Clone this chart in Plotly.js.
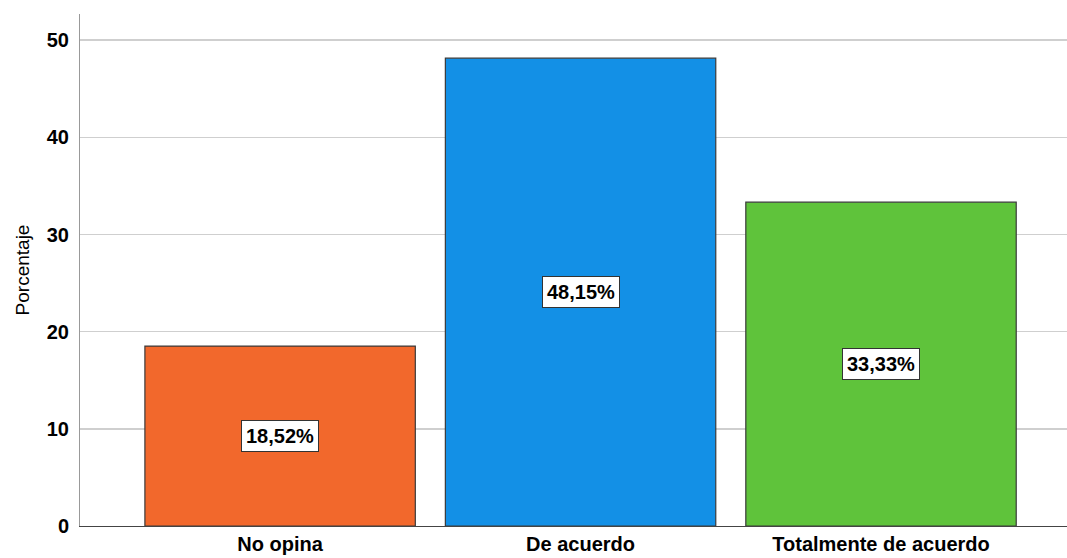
<!DOCTYPE html>
<html>
<head>
<meta charset="utf-8">
<script src="https://cdn.plot.ly/plotly-3.0.1.min.js"></script>
<style>html,body{margin:0;padding:0;background:#fff;}#chart{width:1067px;height:558px;}</style>
</head>
<body>
<div id="chart"></div>
<script>
const categories = ["No opina", "De acuerdo", "Totalmente de acuerdo"];
const values = [18.52, 48.15, 33.33];
const labels = ["18,52%", "48,15%", "33,33%"];
const colors = ["#F2682C", "#1390E6", "#5FC33B"];
const yTicks = [0, 10, 20, 30, 40, 50];

const trace = {
  type: "bar",
  x: [0, 1, 2],
  y: values,
  width: 0.9,
  marker: { color: colors, line: { color: "#3a3a3a", width: 1.2 } },
  hoverinfo: "skip"
};

const annotations = values.map((v, i) => ({
  x: i, y: v / 2, xref: "x", yref: "y",
  text: labels[i], showarrow: false,
  font: { family: "Liberation Sans, Arial, sans-serif", size: 20, color: "#000", weight: "bold" },
  bgcolor: "#ffffff", bordercolor: "#333333", borderwidth: 1, borderpad: 4
}));

const layout = {
  width: 1067, height: 558,
  margin: { l: 80, r: 0, t: 14, b: 32 },
  paper_bgcolor: "#fff", plot_bgcolor: "#fff",
  showlegend: false,
  bargap: 0,
  xaxis: {
    range: [-0.666, 2.619],
    tickmode: "array", tickvals: [0, 1, 2], ticktext: categories,
    showgrid: false, zeroline: false,
    showline: true, linecolor: "#444", linewidth: 1,
    ticks: "", ticklabelstandoff: 0,
    tickfont: { family: "Liberation Sans, Arial, sans-serif", size: 20, color: "#000", weight: "bold" }
  },
  yaxis: {
    range: [0, 52.7],
    tickmode: "array", tickvals: yTicks, ticktext: yTicks.map(String),
    showgrid: true, gridcolor: "#cfcfcf", gridwidth: 1.5,
    zeroline: false,
    showline: true, linecolor: "#999", linewidth: 1,
    ticks: "", ticklabelstandoff: 6,
    tickfont: { family: "Liberation Sans, Arial, sans-serif", size: 20, color: "#000", weight: "bold" },
    title: { text: "Porcentaje", standoff: 12, font: { family: "Liberation Sans, Arial, sans-serif", size: 19, color: "#000" } }
  },
  annotations: annotations
};

Plotly.newPlot("chart", [trace], layout, { displayModeBar: false, staticPlot: true });
</script>
</body>
</html>
